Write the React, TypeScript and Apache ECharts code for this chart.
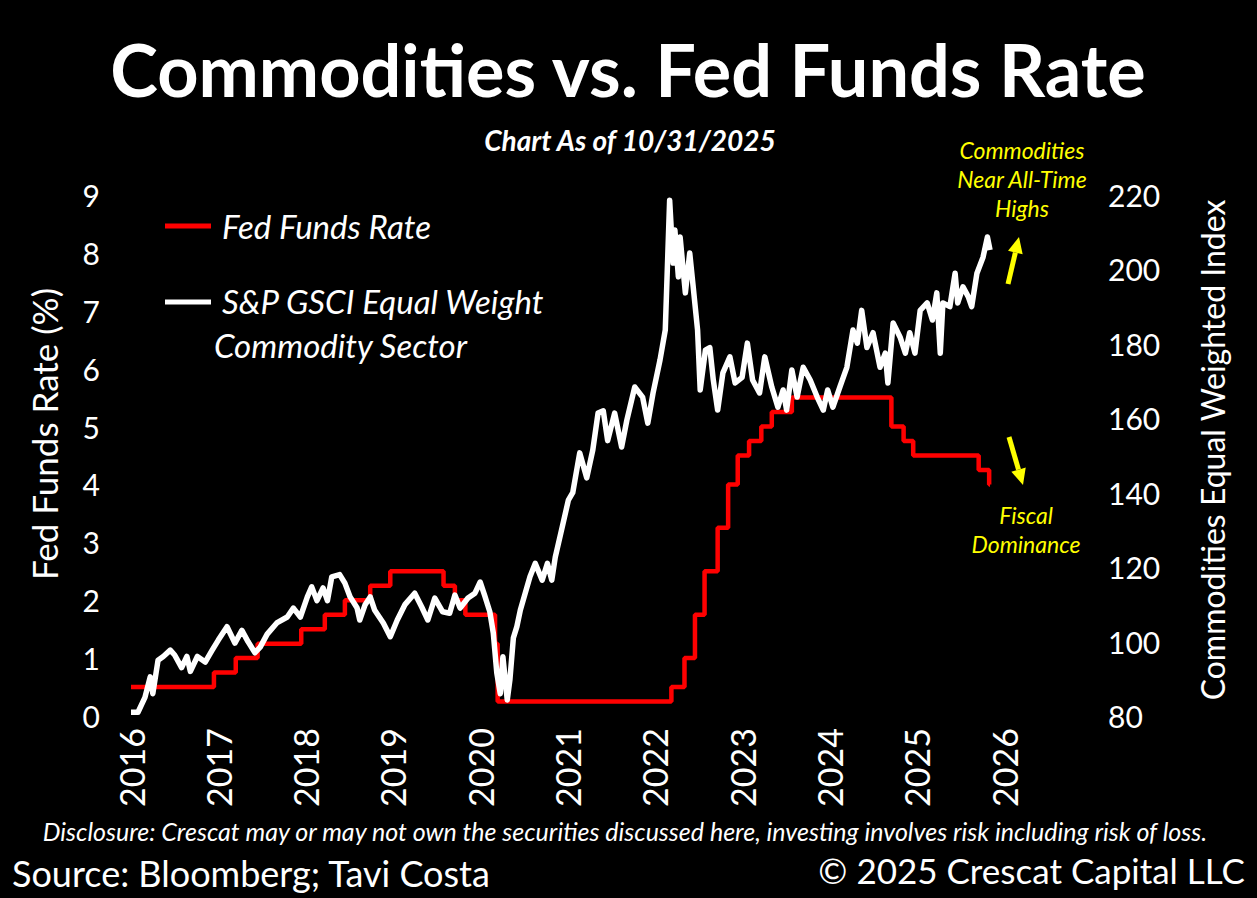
import React, { useEffect, useRef } from "react";
import * as echarts from "echarts";

// Fed Funds Rate (upper bound, %) – change dates as decimal years
const fedYears = [2016.0, 2016.95, 2017.2, 2017.45, 2017.95, 2018.22, 2018.45, 2018.74, 2018.97, 2019.58, 2019.71, 2019.83, 2020.17, 2020.2, 2022.19, 2022.34, 2022.46, 2022.57, 2022.72, 2022.84, 2022.95, 2023.08, 2023.22, 2023.34, 2023.57, 2024.71, 2024.85, 2024.96, 2025.71, 2025.83, 2025.84];
const fedRates = [0.5, 0.75, 1.0, 1.25, 1.5, 1.75, 2.0, 2.25, 2.5, 2.25, 2.0, 1.75, 1.25, 0.25, 0.5, 1.0, 1.75, 2.5, 3.25, 4.0, 4.5, 4.75, 5.0, 5.25, 5.5, 5.0, 4.75, 4.5, 4.25, 4.0, 4.0];

// S&P GSCI Equal Weight Commodity Sector index
const comYears = [2016.0, 2016.08, 2016.16, 2016.22, 2016.25, 2016.31, 2016.37, 2016.45, 2016.5, 2016.58, 2016.64, 2016.68, 2016.76, 2016.85, 2016.93, 2017.0, 2017.1, 2017.19, 2017.27, 2017.34, 2017.42, 2017.48, 2017.56, 2017.67, 2017.79, 2017.86, 2017.94, 2018.02, 2018.07, 2018.13, 2018.2, 2018.25, 2018.3, 2018.39, 2018.45, 2018.51, 2018.59, 2018.62, 2018.68, 2018.74, 2018.79, 2018.89, 2018.97, 2019.05, 2019.14, 2019.25, 2019.33, 2019.4, 2019.48, 2019.57, 2019.65, 2019.71, 2019.77, 2019.86, 2019.94, 2020.0, 2020.05, 2020.11, 2020.15, 2020.19, 2020.23, 2020.26, 2020.31, 2020.34, 2020.38, 2020.42, 2020.46, 2020.57, 2020.63, 2020.71, 2020.77, 2020.82, 2020.86, 2020.94, 2021.01, 2021.06, 2021.14, 2021.22, 2021.29, 2021.35, 2021.41, 2021.46, 2021.54, 2021.62, 2021.68, 2021.77, 2021.86, 2021.92, 2021.98, 2022.06, 2022.12, 2022.17, 2022.21, 2022.23, 2022.27, 2022.29, 2022.35, 2022.4, 2022.44, 2022.49, 2022.52, 2022.58, 2022.63, 2022.67, 2022.72, 2022.78, 2022.86, 2022.92, 2023.0, 2023.06, 2023.12, 2023.2, 2023.26, 2023.34, 2023.41, 2023.47, 2023.51, 2023.57, 2023.63, 2023.7, 2023.78, 2023.86, 2023.93, 2023.98, 2024.04, 2024.12, 2024.2, 2024.27, 2024.32, 2024.37, 2024.43, 2024.5, 2024.58, 2024.64, 2024.67, 2024.73, 2024.81, 2024.87, 2024.92, 2024.98, 2025.04, 2025.12, 2025.18, 2025.23, 2025.27, 2025.3, 2025.38, 2025.44, 2025.47, 2025.53, 2025.59, 2025.63, 2025.69, 2025.76, 2025.81, 2025.84];
const comValues = [81, 81, 85, 90.5, 86, 95, 96, 97.7, 96.4, 93, 96, 92, 96, 94.5, 97.7, 100.4, 104, 99.6, 103, 100, 97, 98.5, 102, 105, 106.6, 109, 106.6, 112, 114.7, 111, 114.4, 111, 117.4, 118, 115.7, 112, 109, 105.8, 109.8, 112, 108.5, 105, 101.3, 105.8, 110, 113, 109.3, 105.8, 111.7, 108, 107.6, 112.5, 109, 111.7, 113, 116, 112.5, 108, 102.3, 91.6, 86, 95.9, 84.3, 89.7, 101, 104, 108.5, 117.4, 121, 116.5, 121, 116.5, 122.7, 130.8, 138, 140, 150.7, 144, 151.5, 161.4, 162, 154, 161.4, 152.3, 159.5, 168.4, 165.7, 158.7, 166.8, 175.7, 183.7, 218.6, 201.7, 210.6, 198, 208.7, 193.7, 204.4, 195.3, 183.7, 167.6, 178.3, 179, 170.3, 162.2, 172.2, 176.5, 169.5, 171, 180.2, 170.3, 166.8, 176.5, 168.4, 163, 167.6, 162.2, 173, 165.7, 173.7, 170.3, 165.7, 162.2, 167.6, 163, 168.4, 173.7, 183.7, 180.2, 189, 179, 183, 173.7, 177.5, 169.5, 185.6, 181.8, 177.5, 183, 177.5, 189, 191, 186.4, 193.7, 177.5, 191, 190, 199, 191, 195.3, 192.7, 190, 199, 203.3, 208.7, 205.2];

const title = "Commodities vs. Fed Funds Rate";
const subtitle = "Chart As of 10/31/2025";
const leftAxisName = "Fed Funds Rate (%)";
const rightAxisName = "Commodities Equal Weighted Index";
const legendFed = "Fed Funds Rate";
const legendCom1 = "S&P GSCI Equal Weight";
const legendCom2 = "Commodity Sector";
const noteUp = ["Commodities", "Near All-Time", "Highs"];
const noteDown = ["Fiscal", "Dominance"];
const disclosure = "Disclosure: Crescat may or may not own the securities discussed here, investing involves risk including risk of loss.";
const source = "Source: Bloomberg; Tavi Costa";
const copyright = "© 2025 Crescat Capital LLC";

const FONT = "Lato, 'Open Sans', sans-serif";

function txt(text: string, x: number, y: number, size: number, opts: any = {}) {
  return {
    type: "text",
    x,
    y,
    rotation: opts.rotation || 0,
    style: {
      text,
      fill: opts.fill || "#ffffff",
      fontSize: size,
      fontFamily: opts.family || FONT,
      fontWeight: opts.weight || "normal",
      fontStyle: opts.style || "normal",
      align: opts.align || "left",
      verticalAlign: "middle",
      textAlign: opts.align || "left",
      textVerticalAlign: "middle",
    },
  };
}

function arrow(tx: number, ty: number, hx: number, hy: number) {
  const dx = hx - tx;
  const dy = hy - ty;
  const len = Math.sqrt(dx * dx + dy * dy);
  const ux = dx / len;
  const uy = dy / len;
  const hl = 16;
  const hw = 7.5;
  const bx = hx - hl * ux;
  const by = hy - hl * uy;
  const px = -uy;
  const py = ux;
  return [
    {
      type: "line",
      shape: { x1: tx, y1: ty, x2: bx, y2: by },
      style: { stroke: "#ffff00", lineWidth: 5 },
    },
    {
      type: "polygon",
      shape: {
        points: [
          [hx, hy],
          [bx + hw * px, by + hw * py],
          [bx - hw * px, by - hw * py],
        ],
      },
      style: { fill: "#ffff00" },
    },
  ];
}

export default function App() {
  const ref = useRef<HTMLDivElement>(null);

  useEffect(() => {
    document.body.style.margin = "0";
    document.body.style.background = "#000";
    if (!ref.current) return;
    const chart = echarts.init(ref.current, null, { renderer: "svg" });

    const fedData = fedYears.map((y, i) => [y, fedRates[i]]);
    const comData = comYears.map((y, i) => [y, comValues[i]]);

    const graphics: any[] = [
      txt(title, 628, 69, 72, { align: "center", weight: "bold" }),
      txt(subtitle, 630, 140, 28, { align: "center", weight: "bold", style: "italic" }),
      txt(leftAxisName, 44, 434, 35, { align: "center", rotation: Math.PI / 2 }),
      txt(rightAxisName, 1212, 450, 32, { align: "center", rotation: Math.PI / 2 }),
      {
        type: "line",
        shape: { x1: 165, y1: 226, x2: 211, y2: 226 },
        style: { stroke: "#ff0000", lineWidth: 5 },
      },
      txt(legendFed, 222, 226, 33, { style: "italic" }),
      {
        type: "line",
        shape: { x1: 165, y1: 302, x2: 211, y2: 302 },
        style: { stroke: "#ffffff", lineWidth: 5 },
      },
      txt(legendCom1, 222, 301, 33, { style: "italic" }),
      txt(legendCom2, 214, 345, 33, { style: "italic" }),
      txt(noteUp[0], 1022, 150, 23, { align: "center", style: "italic", fill: "#ffff00" }),
      txt(noteUp[1], 1022, 179, 23, { align: "center", style: "italic", fill: "#ffff00" }),
      txt(noteUp[2], 1022, 208, 23, { align: "center", style: "italic", fill: "#ffff00" }),
      txt(noteDown[0], 1026, 515, 23, { align: "center", style: "italic", fill: "#ffff00" }),
      txt(noteDown[1], 1026, 544, 23, { align: "center", style: "italic", fill: "#ffff00" }),
      ...arrow(1008, 284, 1019, 237),
      ...arrow(1009, 437, 1023, 485),
      txt(disclosure, 625, 831, 25, { align: "center", style: "italic" }),
      txt(source, 12, 873, 36, {}),
      txt(copyright, 1245, 870, 35, { align: "right" }),
    ];

    chart.setOption({
      animation: false,
      backgroundColor: "#000000",
      grid: { left: 131, right: 253, top: 195, bottom: 182, containLabel: false },
      xAxis: {
        type: "value",
        min: 2016,
        max: 2026,
        interval: 1,
        axisLine: { show: false },
        axisTick: { show: false },
        splitLine: { show: false },
        axisLabel: {
          rotate: 90,
          color: "#ffffff",
          fontSize: 34,
          fontFamily: FONT,
          margin: 12,
          formatter: (v: number) => String(v),
        },
      },
      yAxis: [
        {
          type: "value",
          position: "left",
          min: 0,
          max: 9,
          interval: 1,
          axisLine: { show: false },
          axisTick: { show: false },
          splitLine: { show: false },
          axisLabel: { color: "#ffffff", fontSize: 30, fontFamily: FONT, margin: 31 },
        },
        {
          type: "value",
          position: "right",
          min: 80,
          max: 220,
          interval: 20,
          axisLine: { show: false },
          axisTick: { show: false },
          splitLine: { show: false },
          axisLabel: { color: "#ffffff", fontSize: 30, fontFamily: FONT, margin: 104 },
        },
      ],
      series: [
        {
          name: legendFed,
          type: "line",
          yAxisIndex: 0,
          step: "end",
          data: fedData,
          showSymbol: false,
          symbol: "none",
          lineStyle: { color: "#ff0000", width: 4.5 },
          itemStyle: { color: "#ff0000" },
          z: 2,
        },
        {
          name: legendCom1,
          type: "line",
          yAxisIndex: 1,
          data: comData,
          showSymbol: false,
          symbol: "none",
          lineStyle: { color: "#ffffff", width: 5.5, join: "round" },
          itemStyle: { color: "#ffffff" },
          z: 3,
        },
      ],
      graphic: graphics,
    });

    return () => chart.dispose();
  }, []);

  return <div ref={ref} style={{ width: 1257, height: 898, background: "#000" }} />;
}
